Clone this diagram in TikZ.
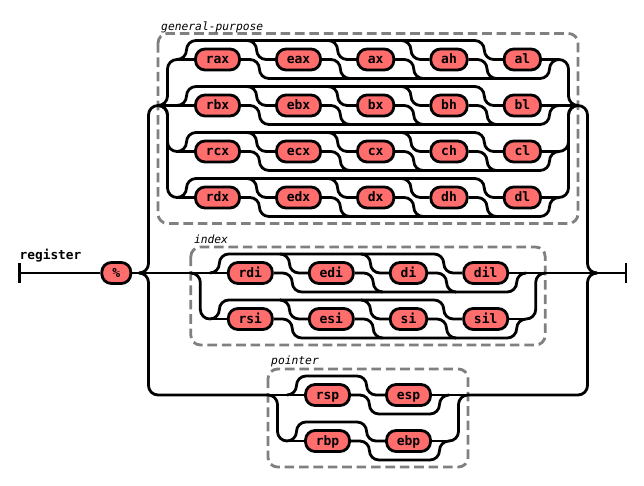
\documentclass[tikz,border=0pt]{standalone}
\usepackage{fontspec}
\setmonofont{DejaVu Sans Mono}
\usetikzlibrary{calc}
\pgfdeclarelayer{bg}
\pgfsetlayers{bg,main}
\definecolor{termfill}{HTML}{FF6D6D}
\definecolor{boxgray}{HTML}{808080}

\tikzset{
  track/.style={line width=2.8pt, rounded corners=9.5pt},
  bar/.style={line width=2.8pt},
  term/.style={draw, line width=2.8pt, fill=termfill, rounded corners=9.6pt,
    minimum height=21pt, inner sep=0pt, text height=8pt, text depth=0pt,
    font=\fontsize{13}{13}\selectfont\ttfamily\bfseries},
  t3/.style={term, minimum width=44pt},
  t2/.style={term, minimum width=36.33pt},
  t1/.style={term, minimum width=29pt},
  groupbox/.style={draw=boxgray, line width=2.8pt, dash pattern=on 9.6pt off 4.8pt,
    rounded corners=9.6pt},
  grouplabel/.style={anchor=base west, inner sep=0pt,
    font=\fontsize{11.3}{11.3}\selectfont\ttfamily\itshape},
}

% One horizontal choice row:
% #1 y, #2 row start x, #3 row end x, #4 first item, #5 middle items, #6 last item
\newcommand\hcrow[6]{%
  \draw[track] (#2,#1) -- (#4.west);
  \draw[track] (#2,#1) -- ++(9.5,0) -- ++(0,-19) -- ($(#6.west)+(-18.5,-19)$)
    -- ($(#6.west)+(-18.5,0)$) -- (#6.west);
  \draw[track] (#4.east) -- ++(18.5,0) -- ++(0,19) -- ($(#3,#1)+(-9.5,19)$)
    -- ($(#3,#1)+(-9.5,0)$) -- (#3,#1);
  \draw[track] (#6.east) -- (#3,#1);
  \if\relax\detokenize{#5}\relax\else
    \foreach \mid in {#5} {
      \draw[track] ($(\mid.west)+(-28,-19)$) -- ++(9.5,0) -- ++(0,19) -- (\mid.west);
      \draw[track] (\mid.east) -- ++(18.5,0) -- ++(0,19) -- ++(9.5,0);
    }
  \fi
}

\begin{document}
\begin{tikzpicture}[x=1pt, y=-1pt]
\useasboundingbox (0,0) rectangle (644,486);

% ---- terminals ----
\node[t1] (pct) at (116.3,273) {\%};

\node[t3] (rax) at (217.5,59.5) {rax};
\node[t3] (eax) at (298.5,59.5) {eax};
\node[t2] (ax)  at (375.67,59.5) {ax};
\node[t2] (ah)  at (449,59.5) {ah};
\node[t2] (al)  at (522.33,59.5) {al};

\node[t3] (rbx) at (217.5,105.5) {rbx};
\node[t3] (ebx) at (298.5,105.5) {ebx};
\node[t2] (bx)  at (375.67,105.5) {bx};
\node[t2] (bh)  at (449,105.5) {bh};
\node[t2] (bl)  at (522.33,105.5) {bl};

\node[t3] (rcx) at (217.5,151.5) {rcx};
\node[t3] (ecx) at (298.5,151.5) {ecx};
\node[t2] (cx)  at (375.67,151.5) {cx};
\node[t2] (ch)  at (449,151.5) {ch};
\node[t2] (cl)  at (522.33,151.5) {cl};

\node[t3] (rdx) at (217.5,197.5) {rdx};
\node[t3] (edx) at (298.5,197.5) {edx};
\node[t2] (dx)  at (375.67,197.5) {dx};
\node[t2] (dh)  at (449,197.5) {dh};
\node[t2] (dl)  at (522.33,197.5) {dl};

\node[t3] (rdi) at (250.33,273) {rdi};
\node[t3] (edi) at (331.33,273) {edi};
\node[t2] (di)  at (408.5,273) {di};
\node[t3] (dil) at (485.67,273) {dil};

\node[t3] (rsi) at (250.33,319) {rsi};
\node[t3] (esi) at (331.33,319) {esi};
\node[t2] (si)  at (408.5,319) {si};
\node[t3] (sil) at (485.67,319) {sil};

\node[t3] (rsp) at (327.5,395) {rsp};
\node[t3] (esp) at (408.5,395) {esp};
\node[t3] (rbp) at (327.5,441) {rbp};
\node[t3] (ebp) at (408.5,441) {ebp};

% ---- labels ----
\node[anchor=base west, inner sep=0pt,
  font=\fontsize{12.8}{12.8}\selectfont\ttfamily\bfseries] (reglabel) at (19.5,259) {register};
\node[grouplabel] (gplabel) at (161,30.5) {general-purpose};
\node[grouplabel] (ixlabel) at (193.8,243) {index};
\node[grouplabel] (ptlabel) at (271,364.5) {pointer};

% ---- junction points ----
\coordinate (start) at (19.5,273);
\coordinate (mIn) at (139,273);
\coordinate (mOut) at (597,273);
\coordinate (fin) at (626,273);
\coordinate (gpIn) at (158,105.5);
\coordinate (gpOut) at (578,105.5);
\coordinate (ixIn) at (190.83,273);
\coordinate (ixOut) at (545.17,273);
\coordinate (ptIn) at (268,395);
\coordinate (ptOut) at (468,395);

\begin{pgfonlayer}{bg}
  % group boxes
  \draw[groupbox] (158,33.5) rectangle (578,223.5);
  \draw[groupbox] (190.83,247) rectangle (545.17,345);
  \draw[groupbox] (268,369) rectangle (468,467);

  % start and end
  \draw[bar] (start) ++(0,-10) -- ++(0,20);
  \draw[track] (start) -- (pct.west);
  \draw[track] (pct.east) -- (mIn);
  \draw[bar] (fin) ++(0,-10) -- ++(0,20);

  % outer choice
  \draw[track] (mIn) -- (ixIn);
  \draw[track] (mIn) -- ++(9.5,0) |- (gpIn);
  \draw[track] (mIn) -- ++(9.5,0) |- (ptIn);
  \draw[track] (gpOut) -- ++(9.5,0) |- (mOut);
  \draw[track] (ptOut) -- (587.5,395) |- (mOut);
  \draw[track] (ixOut) -- (mOut) -- (fin);

  % general-purpose choice
  \draw[track] (gpIn) -- (177,105.5);
  \foreach \yy in {59.5,151.5,197.5}
    \draw[track] (gpIn) -- ++(9.5,0) |- (177,\yy);
  \draw[track] (559,105.5) -- (gpOut);
  \foreach \yy in {59.5,151.5,197.5}
    \draw[track] (559,\yy) -- (568.5,\yy) |- (gpOut);
  \hcrow{59.5}{177}{559}{rax}{eax,ax,ah}{al}
  \hcrow{105.5}{177}{559}{rbx}{ebx,bx,bh}{bl}
  \hcrow{151.5}{177}{559}{rcx}{ecx,cx,ch}{cl}
  \hcrow{197.5}{177}{559}{rdx}{edx,dx,dh}{dl}

  % index choice
  \draw[track] (ixIn) -- (209.83,273);
  \draw[track] (ixIn) -- ++(9.5,0) |- (209.83,319);
  \draw[track] (526.17,273) -- (ixOut);
  \draw[track] (526.17,319) -- (535.67,319) |- (ixOut);
  \hcrow{273}{209.83}{526.17}{rdi}{edi,di}{dil}
  \hcrow{319}{209.83}{526.17}{rsi}{esi,si}{sil}

  % pointer choice
  \draw[track] (ptIn) -- (287,395);
  \draw[track] (ptIn) -- ++(9.5,0) |- (287,441);
  \draw[track] (449,395) -- (ptOut);
  \draw[track] (449,441) -- (458.5,441) |- (ptOut);
  \hcrow{395}{287}{449}{rsp}{}{esp}
  \hcrow{441}{287}{449}{rbp}{}{ebp}
\end{pgfonlayer}
\end{tikzpicture}
\end{document}
